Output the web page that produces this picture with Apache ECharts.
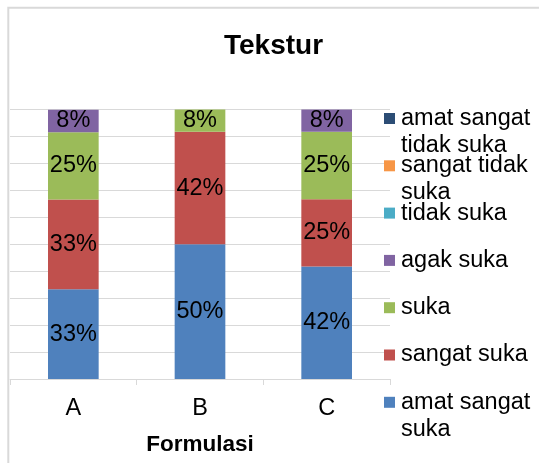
<!DOCTYPE html>
<html>
<head>
<meta charset="utf-8">
<script src="https://cdn.jsdelivr.net/npm/echarts@6/dist/echarts.min.js"></script>
<style>
    html, body { margin: 0; padding: 0; background: #fff; }
    #chart { width: 539px; height: 463px; }
</style>
</head>
<body>
<div id="chart"></div>
<script>
// data (percent per formulasi)
var categories = ['A', 'B', 'C'];
var amatSangatSuka = [33.3, 50, 41.7];
var sangatSuka = [33.3, 41.7, 25];
var suka = [25, 8.3, 25];
var agakSuka = [8.3, null, 8.3];
var tidakSuka = [null, null, null];
var sangatTidakSuka = [null, null, null];
var amatSangatTidakSuka = [null, null, null];

var seriesNames = ['amat sangat suka', 'sangat suka', 'suka', 'agak suka',
    'tidak suka', 'sangat tidak suka', 'amat sangat tidak suka'];
var seriesData = [amatSangatSuka, sangatSuka, suka, agakSuka,
    tidakSuka, sangatTidakSuka, amatSangatTidakSuka];
var colors = ['#4F81BD', '#C0504D', '#9BBB59', '#8064A2', '#4BACC6', '#F79646', '#2C4D75'];

var FONT = '"Liberation Sans", Arial, sans-serif';
var FS = 23.5;

// bungkus teks legend seperti di Excel
function wrap(name) {
    var words = name.split(' '), lines = [], cur = '';
    words.forEach(function(w) {
        var next = cur ? cur + ' ' + w : w;
        if (next.length > 12 && cur) {
            lines.push(cur);
            cur = w;
        } else {
            cur = next;
        }
    });
    lines.push(cur);
    return lines;
}

var legends = seriesNames.slice().reverse().map(function(name, i) {
    var idx = seriesNames.indexOf(name);
    return {
        data: [name],
        left: 379,
        top: 105 + i * 47.3,
        padding: 0,
        itemWidth: 0,
        itemHeight: 0,
        selectedMode: false,
        formatter: function(n) {
            return wrap(n).map(function(l, k) {
                return (k === 0 ? '{sq|}{sp|}' : '{ind|}') + '{t|' + l + '}';
            }).join('\n');
        },
        textStyle: {
            color: '#000',
            fontFamily: FONT,
            fontSize: FS,
            lineHeight: 27,
            rich: {
                sq: { width: 11, height: 11, backgroundColor: colors[idx], verticalAlign: 'middle' },
                sp: { width: 6 },
                ind: { width: 17 },
                t: { color: '#000', fontFamily: FONT, fontSize: FS, lineHeight: 27 }
            }
        }
    };
});

var series = seriesNames.map(function(name, i) {
    return {
        name: name,
        type: 'bar',
        stack: 'total',
        barWidth: '40%',
        data: seriesData[i],
        itemStyle: { color: colors[i] },
        label: {
            show: true,
            position: 'inside',
            color: '#000',
            fontFamily: FONT,
            fontSize: FS,
            formatter: function(p) {
                return Math.round(p.value) + '%';
            }
        }
    };
});

echarts.init(document.getElementById('chart')).setOption({
    animation: false,
    title: {
        text: 'Tekstur',
        left: 224,
        top: 32,
        padding: 0,
        textStyle: { fontFamily: FONT, fontSize: 28, fontWeight: 'bold', color: '#000' }
    },
    legend: legends,
    graphic: [{
        type: 'rect',
        shape: { x: 8.3, y: 7.7, width: 700, height: 600 },
        style: { fill: 'none', stroke: '#D9D9D9', lineWidth: 2 },
        silent: true
    }],
    grid: { left: 10, right: 149, top: 109.5, bottom: 84 },
    xAxis: {
        type: 'category',
        data: categories,
        name: 'Formulasi',
        nameLocation: 'middle',
        nameGap: 54,
        nameTextStyle: { fontFamily: FONT, fontSize: 22.5, fontWeight: 'bold', color: '#000' },
        axisLine: { lineStyle: { color: '#D9D9D9', width: 1 } },
        axisTick: { show: true, length: 6, lineStyle: { color: '#D9D9D9' } },
        axisLabel: { fontFamily: FONT, fontSize: FS, color: '#000', margin: 18 }
    },
    yAxis: {
        type: 'value',
        min: 0,
        max: 100,
        interval: 10,
        axisLine: { show: false },
        axisTick: { show: false },
        axisLabel: { show: false },
        splitLine: { lineStyle: { color: '#D9D9D9', width: 1 } }
    },
    series: series
});
</script>
</body>
</html>
